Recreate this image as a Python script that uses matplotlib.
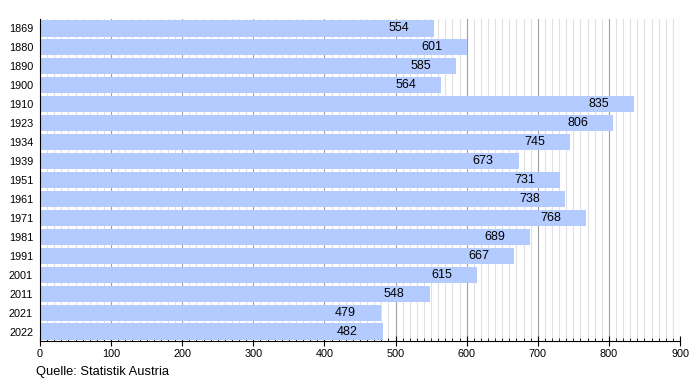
import numpy as np
import matplotlib
matplotlib.use("Agg")
import matplotlib.pyplot as plt
from matplotlib.ticker import MultipleLocator

plt.rcParams['font.family'] = ['Liberation Sans', 'DejaVu Sans']

years = ["1869", "1880", "1890", "1900", "1910", "1923", "1934", "1939", "1951",
         "1961", "1971", "1981", "1991", "2001", "2011", "2021", "2022"]
population = [554, 601, 585, 564, 835, 806, 745, 673, 731,
              738, 768, 689, 667, 615, 548, 479, 482]

fig = plt.figure(figsize=(7, 3.8), dpi=100)
ax = fig.add_axes([40 / 700, 1 - 341 / 380, 640 / 700, 322 / 380])

y = np.arange(len(years))
ax.barh(y, population, height=0.85, color="#b3cbff", zorder=2)

# value labels sit inside the bar, about 25px left of its end
for yi, v in zip(y, population):
    ax.annotate(str(v), (v, yi), xytext=(-18, 0), textcoords="offset points",
                ha="right", va="center", fontsize=9, color="black", zorder=3)

ax.set_xlim(0, 900)
ax.set_ylim(len(years) - 0.5, -0.5)
ax.set_yticks(y)
ax.set_yticklabels(years, fontsize=7.8)
ax.tick_params(axis="y", length=0, pad=5)

ax.xaxis.set_major_locator(MultipleLocator(100))
ax.xaxis.set_minor_locator(MultipleLocator(10))
ax.tick_params(axis="x", which="major", direction="inout", length=7, width=0.8,
               labelsize=7.8, pad=2)
ax.tick_params(axis="x", which="minor", direction="in", length=2.5, width=0.6)
ax.grid(True, axis="x", which="major", color="#a0a0a0", linewidth=0.8, zorder=0)
ax.grid(True, axis="x", which="minor", color="#e0e0e0", linewidth=0.8, zorder=0)
ax.set_axisbelow(True)

for s in ["top", "right"]:
    ax.spines[s].set_visible(False)
ax.spines["left"].set_color("black")
ax.spines["bottom"].set_color("black")

fig.text(36 / 700, 1 - 372 / 380, "Quelle: Statistik Austria", fontsize=9.3,
         ha="left", va="center")

fig.savefig("out.png", dpi=100)
